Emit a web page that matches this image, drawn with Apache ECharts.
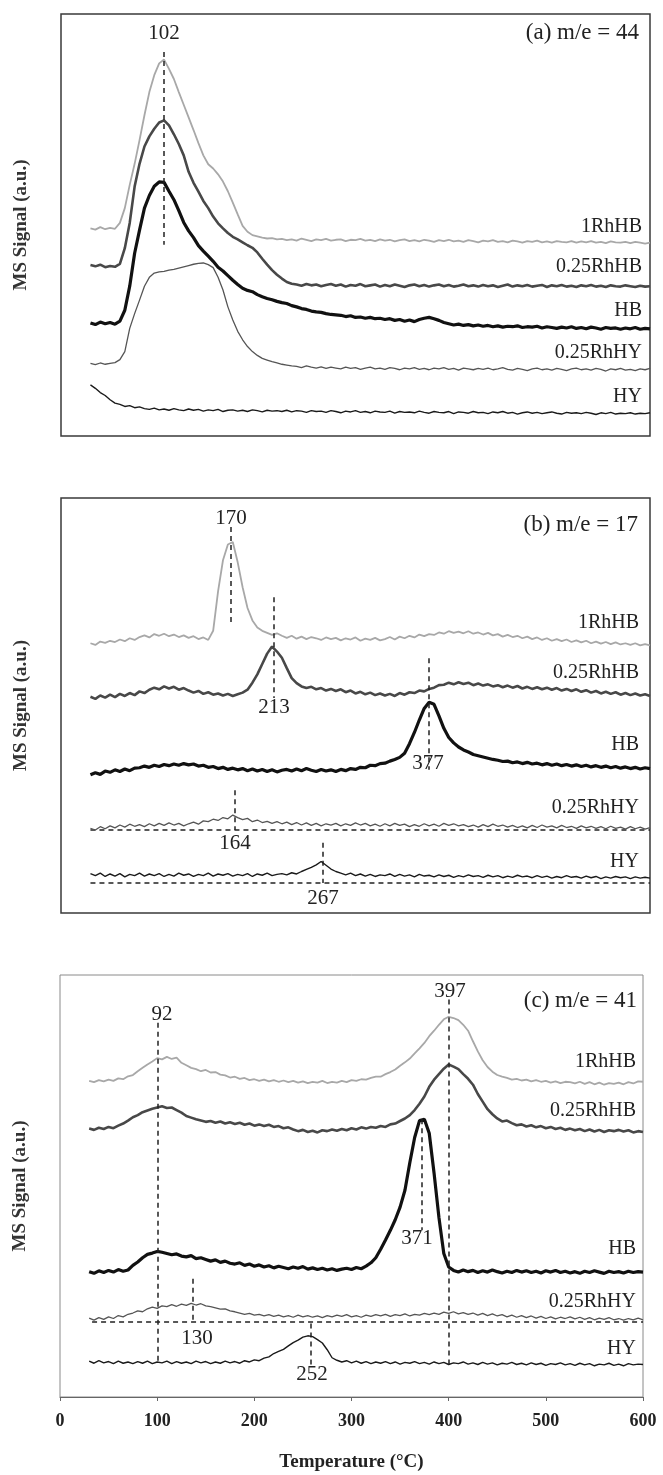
<!DOCTYPE html>
<html><head><meta charset="utf-8">
<script src="https://cdn.jsdelivr.net/npm/echarts/dist/echarts.min.js"></script>
<style>html,body{margin:0;padding:0;background:#fff}#c{width:663px;height:1475px}</style>
</head><body><div id="c"></div>
<script>
// Temperature grid (°C)
const temps = [
30,35,40,45,50,55,60,65,70,75,
80,85,90,95,100,105,110,115,120,125,
130,135,140,145,150,155,160,165,170,175,
180,185,190,195,200,205,210,215,220,225,
230,235,240,245,250,255,260,265,270,275,
280,285,290,295,300,305,310,315,320,325,
330,335,340,345,350,355,360,365,370,375,
380,385,390,395,400,405,410,415,420,425,
430,435,440,445,450,455,460,465,470,475,
480,485,490,495,500,505,510,515,520,525,
530,535,540,545,550,555,560,565,570,575,
580,585,590,595,600];

const seriesNames = ['1RhHB','0.25RhHB','HB','0.25RhHY','HY'];
const xTicks = [0,100,200,300,400,500,600];
const panelTitles = ['(a) m/e = 44','(b) m/e = 17','(c) m/e = 41'];
const peakLabelsA = ['102'];
const peakLabelsB = ['170','213','377','164','267'];
const peakLabelsC = ['92','397','371','130','252'];

// ---- panel (a) m/e = 44 (offset signal, a.u.)
const a_1RhHB = [
49.2,48.9,49.5,49.0,49.3,49.1,50.5,54.0,59.5,64.5,
70.1,76.0,81.5,85.5,88.3,89.2,87.0,84.6,81.5,78.5,
75.5,72.5,69.4,66.5,64.4,63.4,62.0,60.3,58.0,55.3,
52.5,49.8,48.4,47.6,47.3,47.0,46.8,46.9,46.6,46.7,
46.4,46.6,46.3,46.8,46.5,46.2,46.6,46.4,46.7,46.3,
46.5,46.6,46.2,46.5,46.4,46.7,46.3,46.5,46.2,46.6,
46.3,46.5,46.1,46.4,46.6,46.2,46.4,46.1,46.5,46.3,
46.0,46.4,46.2,46.5,46.1,46.3,46.0,46.4,46.2,45.9,
46.3,46.1,46.4,46.0,46.2,45.9,46.3,46.1,45.8,46.2,
46.0,46.3,45.9,46.1,45.8,46.2,46.0,45.9,46.2,45.8,
46.1,45.9,46.2,45.8,46.0,45.7,46.1,45.9,45.8,46.0,
45.7,46.0,45.8,45.6,45.8];
const a_025RhHB = [
40.5,40.2,40.6,40.0,40.3,40.1,40.8,44.5,50.5,59.1,
64.5,68.6,71.0,72.8,74.3,74.8,73.6,71.5,69.2,66.5,
62.6,60.0,57.9,55.7,54.0,52.0,50.4,49.2,48.1,47.2,
46.6,45.9,45.2,44.6,43.5,42.0,40.6,39.3,38.2,37.3,
36.5,36.1,35.9,35.6,36.0,35.7,35.9,35.5,35.8,36.0,
35.6,35.9,35.4,35.8,35.6,36.0,35.5,35.7,35.9,35.4,
35.8,35.5,35.9,35.6,35.3,35.7,35.9,35.5,35.8,35.4,
35.7,35.9,35.5,35.8,35.4,35.6,35.9,35.5,35.7,35.4,
35.8,35.5,35.7,35.3,35.6,35.9,35.4,35.7,35.5,35.8,
35.4,35.6,35.8,35.3,35.7,35.5,35.8,35.4,35.6,35.3,
35.7,35.5,35.8,35.4,35.6,35.3,35.7,35.5,35.4,35.7,
35.5,35.3,35.6,35.4,35.5];
const a_HB = [
26.8,26.4,27.0,26.6,26.9,26.5,27.2,29.8,35.5,43.3,
48.8,54.0,57.0,59.2,60.2,60.1,58.0,56.0,53.4,50.6,
48.6,47.0,45.1,43.8,42.6,41.4,40.0,39.1,38.0,36.9,
35.9,35.0,34.5,34.2,33.5,33.0,32.6,32.3,31.9,31.6,
31.4,30.9,30.6,30.2,30.0,29.6,29.4,29.3,29.0,28.8,
28.7,28.6,28.3,28.5,28.1,28.2,27.9,28.1,27.8,27.9,
27.6,27.8,27.4,27.6,27.2,27.5,27.1,27.6,27.9,28.1,
27.8,27.4,26.9,26.6,26.3,26.5,26.2,26.4,26.1,26.3,
26.0,26.2,25.9,26.1,25.8,26.0,25.9,26.1,25.7,25.9,
25.8,26.0,25.6,25.9,25.7,25.5,25.8,25.6,25.9,25.5,
25.7,25.4,25.8,25.6,25.3,25.7,25.5,25.6,25.3,25.6,
25.4,25.7,25.3,25.5,25.4];
const a_025RhHY = [
17.2,16.9,17.3,17.0,17.2,17.4,18.1,20.0,25.5,29.0,
32.2,35.5,37.6,38.6,38.9,39.0,39.3,39.5,39.8,40.1,
40.4,40.7,40.9,41.0,40.6,39.9,37.6,34.6,30.6,27.5,
24.8,22.8,21.2,20.0,19.1,18.4,18.0,17.6,17.3,17.0,
16.8,16.6,16.5,16.2,16.6,16.3,16.1,16.4,16.0,16.3,
16.1,15.9,16.3,16.0,16.2,15.8,16.1,16.3,15.9,16.1,
15.8,16.2,16.0,15.7,16.1,15.9,16.2,15.8,16.0,15.7,
16.1,15.9,16.2,15.8,16.0,15.6,16.1,15.9,15.7,16.0,
15.8,16.1,15.7,15.9,16.2,15.8,15.6,16.0,15.8,15.5,
15.9,16.1,15.7,15.9,15.6,16.0,15.8,15.5,15.9,16.1,
15.7,15.9,15.6,16.0,15.8,15.4,15.9,15.7,16.0,15.6,
15.8,15.5,15.9,15.7,16.0];
const a_HY = [
12.1,11.3,10.3,9.6,8.6,7.8,7.5,7.0,7.2,6.7,
6.9,6.5,6.3,6.6,6.2,6.4,6.1,6.5,6.2,6.0,
6.4,6.1,6.3,5.9,6.2,6.0,6.3,5.8,6.1,6.2,
5.9,6.1,5.8,6.2,6.0,5.7,6.1,5.9,6.0,5.8,
6.1,5.7,6.0,5.9,5.6,6.0,5.8,5.9,5.6,6.0,
5.8,5.5,5.9,5.7,6.0,5.6,5.8,5.5,5.9,5.7,
5.6,5.9,5.4,5.8,5.6,5.7,5.5,5.9,5.6,5.4,
5.8,5.6,5.5,5.8,5.3,5.7,5.6,5.4,5.8,5.5,
5.6,5.3,5.7,5.5,5.8,5.4,5.6,5.2,5.5,5.7,
5.4,5.6,5.3,5.5,5.7,5.4,5.2,5.6,5.4,5.5,
5.3,5.6,5.4,5.1,5.5,5.3,5.6,5.2,5.4,5.3,
5.5,5.2,5.4,5.3,5.5];

// ---- panel (b) m/e = 17
const b_1RhHB = [
65.0,64.6,65.4,65.1,65.6,65.3,65.9,65.5,66.2,65.8,
66.5,66.9,66.4,67.2,66.8,67.3,66.7,67.1,66.5,66.9,
66.3,66.7,66.0,66.4,65.8,68.0,77.5,85.0,88.8,89.4,
84.5,78.5,73.5,70.5,68.8,68.0,67.5,67.0,67.4,66.8,
66.3,66.8,66.1,66.6,66.0,66.5,66.2,65.8,66.4,66.0,
66.3,65.7,66.2,65.9,66.4,65.6,66.1,65.8,66.3,65.7,
66.0,66.5,65.9,66.6,66.2,66.8,66.4,67.1,66.7,67.2,
67.0,67.6,67.3,67.9,67.5,67.8,67.4,67.9,67.3,67.6,
67.1,67.5,66.9,67.2,66.6,67.0,66.5,66.8,66.2,66.6,
66.0,66.4,65.8,66.2,65.6,66.0,65.5,65.9,65.3,65.7,
65.2,65.6,65.0,65.4,64.9,65.3,64.8,65.2,64.7,65.0,
64.6,65.0,64.5,64.8,64.5];
const b_025RhHB = [
52.1,51.6,52.4,51.9,52.6,52.0,52.8,52.3,53.0,52.5,
53.4,53.0,53.8,54.3,53.9,54.6,54.1,54.5,53.8,54.2,
53.6,53.1,53.5,52.8,53.2,52.6,52.9,52.4,52.8,52.3,
52.7,53.1,53.8,55.5,57.5,60.0,62.5,64.2,63.0,61.5,
59.0,56.6,55.4,54.6,54.2,54.5,53.9,54.2,53.6,54.0,
53.5,53.9,53.2,53.6,52.9,53.3,52.7,53.1,52.5,52.9,
52.4,52.8,52.3,53.0,52.6,53.2,53.0,53.6,53.4,54.0,
54.3,54.9,55.0,55.5,55.1,55.6,55.2,55.5,54.9,55.3,
54.8,55.1,54.6,54.9,54.4,54.8,54.3,54.7,54.1,54.5,
54.0,54.4,53.9,54.3,53.8,54.2,53.6,54.0,53.5,53.9,
53.3,53.7,53.1,53.5,52.9,53.3,52.8,53.2,52.6,53.0,
52.5,52.9,52.4,52.7,52.3];
const b_HB = [
33.3,33.8,33.4,34.2,33.9,34.5,34.1,34.7,34.3,34.9,
35.0,35.4,35.1,35.6,35.3,35.8,35.5,35.9,35.6,36.0,
35.7,35.9,35.4,35.6,35.1,35.3,34.8,35.1,34.6,34.9,
34.5,34.8,34.3,34.7,34.2,34.6,34.1,34.5,34.0,34.4,
34.6,34.2,34.7,34.3,34.8,34.4,34.1,34.6,34.2,34.5,
34.1,34.6,34.3,34.8,34.6,35.1,35.0,35.6,35.5,36.0,
36.1,36.6,37.0,37.5,38.5,40.8,43.5,46.5,49.3,50.8,
50.3,47.5,44.5,42.3,41.0,40.0,39.3,38.8,38.2,37.9,
37.6,37.3,37.0,36.8,36.5,36.6,36.2,36.4,36.0,36.3,
35.9,36.1,35.7,36.0,35.6,35.9,35.5,35.8,35.4,35.7,
35.3,35.6,35.2,35.5,35.1,35.4,35.0,35.3,34.9,35.2,
34.8,35.1,34.7,35.0,34.8];
const b_025RhHY = [
20.4,20.0,20.8,20.3,21.0,20.5,21.2,20.7,21.4,20.9,
21.3,20.8,21.5,21.0,21.6,21.1,21.7,21.2,21.6,21.0,
21.5,21.9,21.4,22.2,22.0,22.6,22.3,23.0,22.7,23.6,
23.0,22.5,22.8,22.0,22.4,21.8,22.1,21.6,22.0,21.5,
21.9,21.3,21.8,21.2,21.7,21.1,21.6,21.0,21.5,21.2,
21.6,21.0,21.5,21.1,21.7,21.2,21.6,21.0,21.4,20.9,
21.5,21.0,21.6,21.1,21.4,20.8,21.3,20.9,21.5,21.0,
21.4,20.9,21.6,21.1,21.5,21.0,21.3,20.8,21.2,20.7,
21.3,20.8,21.4,20.9,21.2,20.7,21.1,20.6,21.0,20.5,
21.1,20.6,21.2,20.7,21.0,20.5,21.1,20.6,20.9,20.4,
21.0,20.5,20.9,20.4,20.8,20.3,20.9,20.4,20.7,20.2,
20.8,20.3,20.7,20.2,20.6];
const b_HY = [
9.5,9.0,9.6,8.8,9.4,8.9,9.5,8.7,9.3,9.0,
9.6,8.9,9.4,9.0,9.5,8.8,9.3,8.9,9.6,9.1,
9.4,8.8,9.3,9.0,9.6,8.9,9.4,9.1,9.5,8.9,
9.3,9.0,9.5,8.8,9.4,9.1,9.6,9.0,9.3,9.5,
9.2,9.7,9.4,10.0,10.5,11.0,11.6,12.4,11.5,10.6,
10.0,9.6,9.2,9.6,9.0,9.4,8.9,9.3,8.8,9.2,
9.0,9.4,8.8,9.3,8.9,9.2,8.7,9.3,8.9,9.1,
8.7,9.2,8.8,9.1,8.6,9.0,8.7,9.2,8.8,9.0,
8.6,9.1,8.7,9.0,8.5,8.9,8.6,9.1,8.7,8.9,
8.5,9.0,8.6,8.9,8.4,8.8,8.5,9.0,8.6,8.8,
8.4,8.9,8.5,8.8,8.3,8.7,8.4,8.8,8.5,8.7,
8.3,8.7,8.4,8.6,8.4];

// ---- panel (c) m/e = 41
const c_1RhHB = [
74.9,74.6,75.1,74.8,75.2,74.9,75.5,75.3,76.0,76.3,
77.2,78.0,78.8,79.5,80.3,80.0,80.6,80.1,80.4,79.2,
78.6,78.0,77.7,77.2,77.5,76.9,77.0,76.4,76.2,75.7,
75.9,75.4,75.6,75.1,75.3,74.9,75.2,74.8,75.1,74.7,
75.0,74.6,74.9,74.5,74.8,74.4,74.7,74.5,74.9,74.4,
74.7,74.5,74.9,74.6,75.1,74.9,75.3,75.2,75.6,75.9,
75.9,76.5,77.0,77.6,78.5,79.3,80.2,81.4,82.6,83.9,
85.5,86.8,88.2,89.5,90.1,89.8,89.3,88.2,86.8,84.3,
81.9,79.8,78.2,77.1,76.3,75.9,75.6,75.2,75.4,75.0,
75.2,74.8,75.1,74.7,74.9,74.5,74.8,74.4,74.7,74.6,
74.3,74.7,74.2,74.6,74.1,74.5,74.0,74.4,74.2,74.5,
74.1,74.6,74.3,74.8,74.7];
const c_025RhHB = [
63.6,63.3,63.8,63.5,64.0,63.7,64.3,64.8,65.5,66.3,
66.8,67.5,67.9,68.3,68.6,68.9,68.5,68.6,68.0,67.4,
66.6,66.2,65.8,65.5,65.2,65.4,65.0,65.3,64.8,65.1,
64.7,65.0,64.5,64.8,64.3,64.6,64.2,64.5,64.0,64.2,
63.7,63.9,63.4,63.0,63.3,62.8,63.1,62.7,63.2,63.0,
63.4,63.1,63.5,63.2,63.7,63.4,63.9,63.6,64.0,63.8,
64.2,64.0,64.6,64.8,65.4,66.0,66.8,68.0,69.5,71.2,
73.5,75.2,76.5,77.8,78.8,78.3,77.7,76.5,75.4,74.0,
71.8,70.0,68.2,67.0,66.0,65.3,65.5,64.9,64.4,64.6,
64.1,64.4,63.9,64.2,63.7,64.0,63.5,63.8,63.3,63.6,
63.2,63.5,63.0,63.4,62.9,63.3,62.8,63.2,63.0,63.3,
62.9,63.2,62.7,63.0,62.8];
const c_HB = [
29.7,29.3,29.9,29.5,30.0,29.6,30.2,29.8,30.1,31.2,
32.0,33.0,33.8,34.1,34.5,34.3,34.0,33.7,33.9,33.4,
33.2,33.5,32.8,33.0,32.6,32.2,32.5,31.9,32.2,31.7,
31.5,31.8,31.2,31.5,31.0,31.3,30.8,31.1,30.6,31.0,
30.7,30.4,30.8,30.5,30.9,30.3,30.6,30.2,30.5,30.1,
30.4,30.0,30.3,30.5,30.2,30.7,30.4,31.0,31.8,33.0,
35.0,37.2,39.5,42.0,45.0,49.0,55.5,61.5,65.5,65.8,
62.5,53.0,42.5,34.0,30.8,30.0,29.6,30.1,29.7,30.0,
29.5,29.9,29.6,30.1,29.7,29.4,29.8,29.5,30.0,29.6,
29.9,29.5,29.8,29.4,29.9,29.6,30.0,29.5,29.8,29.4,
29.7,29.3,29.8,29.5,29.9,29.6,29.3,29.8,29.5,29.7,
29.4,29.8,29.5,29.7,29.6];
const c_025RhHY = [
18.7,18.2,18.8,18.4,19.0,18.6,19.3,19.0,19.6,19.9,
20.4,20.2,20.9,21.3,21.0,21.6,21.4,21.9,21.5,22.0,
21.7,22.2,21.8,22.1,21.6,21.4,21.1,20.8,20.9,20.4,
20.2,19.9,19.6,19.8,19.4,19.6,19.2,19.5,19.1,19.4,
19.0,19.3,18.9,19.4,19.0,19.3,18.9,19.2,18.8,19.3,
19.0,19.4,19.1,19.5,19.0,19.3,18.9,19.4,19.1,19.5,
19.2,19.6,19.1,19.5,19.3,19.7,19.2,19.6,19.4,19.8,
19.5,19.9,19.6,20.1,19.8,20.2,19.7,20.0,19.6,19.9,
19.4,19.8,19.3,19.7,19.2,19.5,19.0,19.4,18.9,19.3,
18.8,19.2,18.7,19.1,18.6,19.0,18.5,18.9,18.6,19.0,
18.5,18.9,18.4,18.8,18.3,18.7,18.4,18.8,18.3,18.6,
18.2,18.6,18.3,18.7,18.3];
const c_HY = [
8.5,8.0,8.6,8.1,8.4,7.9,8.5,8.0,8.3,7.9,
8.4,8.0,8.5,7.9,8.3,8.1,8.5,7.9,8.4,8.0,
8.3,7.9,8.5,8.1,8.4,7.9,8.3,8.0,8.5,8.1,
8.4,8.0,8.6,8.3,8.8,8.6,9.2,9.5,10.3,10.8,
11.3,12.1,12.9,13.5,14.2,14.5,14.3,13.6,12.8,11.2,
9.3,8.7,8.3,8.6,8.1,8.5,8.0,8.4,7.9,8.3,
8.0,8.4,7.9,8.3,7.8,8.2,8.0,8.4,7.9,8.2,
7.8,8.3,7.9,8.2,7.7,8.1,7.9,8.3,7.8,8.1,
7.7,8.2,7.8,8.1,7.6,8.0,7.8,8.2,7.7,8.0,
7.6,8.1,7.7,8.0,7.5,7.9,7.7,8.1,7.6,7.9,
7.5,8.0,7.6,7.9,7.4,7.8,7.6,8.0,7.5,7.8,
7.4,7.9,7.6,7.8,7.7];

const panelData = [
  [a_1RhHB, a_025RhHB, a_HB, a_025RhHY, a_HY],
  [b_1RhHB, b_025RhHB, b_HB, b_025RhHY, b_HY],
  [c_1RhHB, c_025RhHB, c_HB, c_025RhHY, c_HY]
];

// ---------------- layout & styles ----------------
const SERIF = '"Liberation Serif","Times New Roman",serif';
const lineStyles = [
  {color:'#a8a8a8', width:1.8},
  {color:'#484848', width:2.6},
  {color:'#111111', width:3.2},
  {color:'#555555', width:1.3},
  {color:'#1a1a1a', width:1.4}
];
const grids = [
  {left:61, top:14,  width:589, height:422},
  {left:61, top:498, width:589, height:415},
  {left:60, top:975, width:583, height:422}
];
// dashed guide lines: [temperature position, yFrom, yTo] in axis units
const vGuides = [
  [[105,91.0,45.3]],
  [[173,93.0,69.9],[217,76.1,51.8],[375,61.4,34.5],[177,29.6,20.0],[267,16.9,7.2]],
  [[101,88.7,8.5],[400,94.2,7.3],[372,65.8,39.5],[137,28.0,17.9],[258,17.4,7.7]]
];
const hGuides = [[], [[30,600,20.0],[30,600,7.2]], [[33,600,17.9]]];
// annotation pixel anchors
const peakPos = [
  [[164,33]],
  [[231,518],[274,707],[428,763],[235,843],[323,898]],
  [[162,1014],[450,991],[417,1238],[197,1338],[312,1374]]
];
const peakLabels = [peakLabelsA, peakLabelsB, peakLabelsC];
const namePos = [
  {right:642, ys:[227,267,311,353,397]},
  {right:639, ys:[623,673,745,808,862]},
  {right:636, ys:[1062,1111,1249,1302,1349]}
];
const titlePos = [[639,33],[638,525],[637,1001]];

const chart = echarts.init(document.getElementById('c'), null, {renderer:'canvas'});

const gridOpts = grids.map((g,i)=>Object.assign({}, g, {
  show:true, backgroundColor:'transparent',
  borderColor: i<2 ? '#3a3a3a' : '#8a8a8a', borderWidth: i<2 ? 1.5 : 1
}));
const xAxes = grids.map((g,i)=>{
  if (i<2) return {gridIndex:i, type:'value', min:0, max:600, show:false};
  return {gridIndex:i, type:'value', min:0, max:600, interval:100,
    axisLine:{show:true, onZero:false, lineStyle:{color:'#666', width:1}},
    axisTick:{show:true, length:4, lineStyle:{color:'#666'}},
    axisLabel:{fontFamily:SERIF, fontWeight:'bold', fontSize:18, color:'#222', margin:15,
      formatter:(v)=> xTicks.indexOf(v)>=0 ? String(v) : ''},
    splitLine:{show:false},
    name:'Temperature (°C)', nameLocation:'middle', nameGap:56,
    nameTextStyle:{fontFamily:SERIF, fontWeight:'bold', fontSize:19, color:'#222'}};
});
const yAxes = grids.map((g,i)=>({gridIndex:i, type:'value', min:0, max:100,
  axisLine:{show:false}, axisTick:{show:false}, axisLabel:{show:false}, splitLine:{show:false},
  name:'MS Signal (a.u.)', nameLocation:'middle', nameGap:30, nameRotate:90,
  nameTextStyle:{fontFamily:SERIF, fontWeight:'bold', fontSize:19, color:'#333'}}));

const series = [];
panelData.forEach((arrs,p)=>{
  arrs.forEach((arr,k)=>{
    const s = {type:'line', name:seriesNames[k], xAxisIndex:p, yAxisIndex:p,
      data: temps.map((t,i)=>[t, arr[i]]), showSymbol:false, symbol:'none',
      lineStyle:lineStyles[k], silent:true, animation:false, z:2+k};
    if (k===4) {
      const lines = vGuides[p].map(g=>[{coord:[g[0],g[1]]},{coord:[g[0],g[2]]}])
        .concat(hGuides[p].map(h=>[{coord:[h[0],h[2]]},{coord:[h[1],h[2]]}]));
      s.markLine = {symbol:'none', silent:true, animation:false, label:{show:false},
        lineStyle:{type:[5,4], color:'#222', width:1.5}, data:lines};
    }
    series.push(s);
  });
});

const graphics = [];
const txt = (text,x,y,align,size,weight)=>({type:'text', x:x, y:y, silent:true, z:100,
  style:{text:text, fill:'#222', font:(weight||'normal')+' '+size+'px '+SERIF,
    align:align, verticalAlign:'middle', textAlign:align, textVerticalAlign:'middle'}});
panelTitles.forEach((t,i)=>graphics.push(txt(t, titlePos[i][0], titlePos[i][1], 'right', 23)));
peakLabels.forEach((labs,p)=>labs.forEach((l,j)=>graphics.push(txt(l, peakPos[p][j][0], peakPos[p][j][1], 'center', 21))));
namePos.forEach((np,p)=>seriesNames.forEach((n,k)=>graphics.push(txt(n, np.right, np.ys[k], 'right', 20))));

let bad = panelData.flat().filter(a=>a.length!==temps.length).length;
if (bad) graphics.push(txt('LEN ERR '+bad, 300, 460, 'center', 20));

chart.setOption({
  animation:false,
  backgroundColor:'#ffffff',
  grid:gridOpts, xAxis:xAxes, yAxis:yAxes, series:series, graphic:graphics
});
</script></body></html>
